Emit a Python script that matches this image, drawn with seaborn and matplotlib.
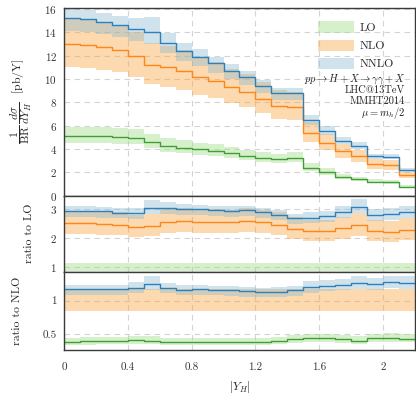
import numpy as np
import pandas as pd
import seaborn as sns
import matplotlib
matplotlib.use("Agg")
import matplotlib.pyplot as plt
from matplotlib.patches import Patch

# bin edges in |Y_H|
yh_edges = [0.0, 0.1, 0.2, 0.3, 0.4, 0.5, 0.6, 0.7, 0.8, 0.9, 1.0, 1.1,
            1.2, 1.3, 1.4, 1.5, 1.6, 1.7, 1.8, 1.9, 2.0, 2.1, 2.2]

# 1/BR dsigma/dY_H [pb/Y], central + scale band
lo = [5.14, 5.12, 5.09, 5.05, 4.98, 4.60, 4.28, 4.12, 3.96, 3.81, 3.64,
      3.42, 3.24, 3.12, 3.25, 2.40, 2.02, 1.62, 1.38, 1.20, 1.17, 0.76]
lo_up = [5.91, 5.89, 5.85, 5.81, 5.73, 5.29, 4.92, 4.74, 4.55, 4.38, 4.19,
         3.93, 3.73, 3.59, 3.74, 2.76, 2.33, 1.87, 1.59, 1.38, 1.35, 0.88]
lo_dn = [4.52, 4.51, 4.48, 4.44, 4.38, 4.05, 3.77, 3.63, 3.48, 3.35, 3.20,
         3.01, 2.85, 2.75, 2.86, 2.11, 1.78, 1.43, 1.21, 1.06, 1.03, 0.67]

nlo = [12.99, 12.90, 12.72, 12.50, 11.97, 11.22, 11.00, 10.68, 10.20, 9.80, 9.30,
       8.90, 8.30, 7.72, 7.60, 5.40, 4.55, 3.80, 3.38, 2.70, 2.60, 1.75]
nlo_up = [15.20, 15.09, 14.88, 14.63, 14.00, 13.13, 12.87, 12.50, 11.93, 11.47, 10.88,
          10.41, 9.71, 9.03, 8.89, 6.32, 5.32, 4.45, 3.95, 3.16, 3.04, 2.05]
nlo_dn = [11.04, 10.97, 10.81, 10.63, 10.17, 9.54, 9.35, 9.08, 8.67, 8.33, 7.91,
          7.57, 7.06, 6.56, 6.46, 4.59, 3.87, 3.23, 2.87, 2.30, 2.21, 1.49]

nnlo = [15.20, 15.12, 14.91, 14.60, 14.26, 14.06, 13.11, 12.43, 11.91, 11.34, 10.71,
        10.14, 9.40, 8.77, 8.77, 6.50, 5.57, 4.70, 4.26, 3.35, 3.33, 2.20]
nnlo_up = [15.97, 15.90, 15.68, 15.45, 15.20, 15.32, 13.92, 13.11, 12.54, 11.91, 11.29,
           10.68, 9.90, 9.25, 9.25, 6.95, 5.95, 5.05, 4.62, 3.60, 3.55, 2.38]
nnlo_dn = [14.12, 14.05, 13.85, 13.60, 13.25, 13.05, 12.20, 11.58, 11.10, 10.56, 9.98,
           9.45, 8.76, 8.17, 8.17, 6.05, 5.20, 4.38, 3.97, 3.12, 3.10, 2.05]

orders = ["LO", "NLO", "NNLO"]
line_col = {"LO": "#3f9f35", "NLO": "#ff8618", "NNLO": "#2f7fb8"}
fill_col = {"LO": "#9dda80", "NLO": "#f9a039", "NNLO": "#8ab9d4"}

x_ticks = [0, 0.4, 0.8, 1.2, 1.6, 2.0]
x_ticklabels = ["0", "0.4", "0.8", "1.2", "1.6", "2"]

sns.set_style("white")
plt.rcParams["font.family"] = ["cmr10", "DejaVu Serif"]
plt.rcParams["mathtext.fontset"] = "cm"
plt.rcParams["axes.unicode_minus"] = False
plt.rcParams["axes.formatter.use_mathtext"] = True

data = {
    "LO": (np.array(lo), np.array(lo_dn), np.array(lo_up)),
    "NLO": (np.array(nlo), np.array(nlo_dn), np.array(nlo_up)),
    "NNLO": (np.array(nnlo), np.array(nnlo_dn), np.array(nnlo_up)),
}
edges = np.array(yh_edges)


def step(v):
    return np.append(v, v[-1])


def draw_panel(ax, denom=None, skip=None):
    for o in orders:
        c, d, u = data[o]
        if denom is not None:
            c, d, u = c / denom, d / denom, u / denom
        ax.fill_between(edges, step(d), step(u), step="post",
                        color=fill_col[o], alpha=0.4, lw=0)
    for o in orders:
        if o == skip:
            continue
        c = data[o][0]
        if denom is not None:
            c = c / denom
        df = pd.DataFrame({"x": edges, "y": step(c)})
        sns.lineplot(data=df, x="x", y="y", ax=ax, drawstyle="steps-post",
                     color=line_col[o], lw=1.0)


def style(ax):
    ax.set_xlim(0, 2.2)
    ax.set_xticks(x_ticks)
    ax.grid(True, ls=(0, (5, 4)), color="#d4d4d4", lw=0.8)
    ax.set_axisbelow(True)
    for s in ax.spines.values():
        s.set_color("#3a3a3a")
        s.set_linewidth(1.0)
    ax.tick_params(length=0, labelsize=8, colors="#333333", pad=5)
    ax.tick_params(axis="x", pad=9)
    ax.set_xlabel("")
    ax.set_ylabel("")


fig = plt.figure(figsize=(4.16, 3.99), dpi=100)
ax1 = fig.add_axes([0.1538, 0.510, 0.8438, 0.470])
ax2 = fig.add_axes([0.1538, 0.319, 0.8438, 0.191])
ax3 = fig.add_axes([0.1538, 0.1236, 0.8438, 0.1955])

# main panel
draw_panel(ax1)
style(ax1)
ax1.set_ylim(0, 16.1)
ax1.set_yticks(range(0, 17, 2))
ax1.set_xticklabels([])
ax1.set_ylabel(r"$\dfrac{1}{\mathrm{BR}}\,\dfrac{d\sigma}{dY_H}$  [pb/Y]", fontsize=8.5)
ax1.yaxis.set_label_coords(-0.085, 0.5)

handles = [Patch(facecolor=fill_col[o], alpha=0.4, edgecolor="none") for o in orders]
ax1.legend(handles, orders, loc="upper right", bbox_to_anchor=(0.97, 0.985),
           frameon=False, fontsize=8.5, handlelength=3.0, handleheight=1.1,
           labelspacing=0.55, handletextpad=0.5)

info = [r"$pp \to H+X \to \gamma\gamma + X$", "LHC@13TeV", "MMHT2014", r"$\mu = m_h/2$"]
for i, t in enumerate(info):
    ax1.text(0.972, 0.62 - i * 0.06, t, transform=ax1.transAxes,
             ha="right", va="center", fontsize=7.5, color="#222222")

# ratio to LO
draw_panel(ax2, denom=data["LO"][0], skip="LO")
style(ax2)
ax2.set_ylim(0.85, 3.48)
ax2.set_yticks([1, 2, 3])
ax2.set_xticklabels([])
ax2.set_ylabel("ratio to LO", fontsize=8.5)
ax2.yaxis.set_label_coords(-0.085, 0.5)

# ratio to NLO
draw_panel(ax3, denom=data["NLO"][0], skip="NLO")
style(ax3)
ax3.set_ylim(0.275, 1.43)
ax3.set_yticks([0.5, 1])
ax3.set_yticklabels(["0.5", "1"])
ax3.set_xticklabels(x_ticklabels)
ax3.set_ylabel("ratio to NLO", fontsize=8.5)
ax3.yaxis.set_label_coords(-0.12, 0.5)
ax3.set_xlabel(r"$|Y_H|$", fontsize=8.5, labelpad=5)

fig.savefig("out.png", dpi=100)
